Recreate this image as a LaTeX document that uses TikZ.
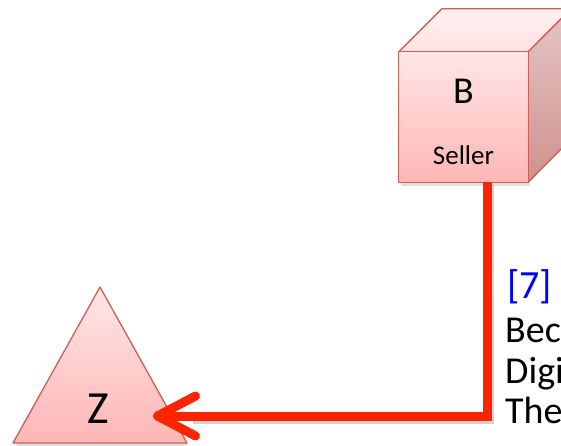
\documentclass[tikz,border=0pt]{standalone}
\usepackage{fontspec}
\setmainfont{Carlito}
\usetikzlibrary{arrows.meta,calc}
\definecolor{arrowred}{RGB}{255,36,0}
\definecolor{edgered}{RGB}{205,95,85}
\definecolor{facetop}{RGB}{255,230,230}
\definecolor{facebot}{RGB}{255,182,182}
\definecolor{sidetop}{RGB}{228,198,198}
\definecolor{sidebot}{RGB}{208,145,140}
\definecolor{lidtop}{RGB}{255,240,240}
\definecolor{lidbot}{RGB}{255,226,226}
\definecolor{labelblue}{RGB}{0,0,255}
\tikzset{
  edge/.style={draw=edgered, line width=1.3pt, line join=round},
  redline/.style={draw=arrowred, line width=9pt, line join=miter,
    -{Straight Barb[length=38pt,width=40pt,line cap=round,line join=round]}},
  shadowline/.style={draw=black, opacity=0.18, line width=9pt, line join=miter},
  txt/.style={inner sep=0pt, anchor=base west, font=\fontsize{38}{40}\selectfont},
}
\begin{document}
\begin{tikzpicture}[x=1pt,y=1pt]
\useasboundingbox (0,0) rectangle (561,445);
% cube B (front face as node)
\node[minimum width=129pt, minimum height=130pt, inner sep=0pt] (B) at (463.5,328) {};
\fill[black, opacity=0.12] ($(B.south west)+(2,-4)$) rectangle ($(B.north east)+(2,-4)$);
\shade[edge, top color=lidtop, bottom color=lidbot]
  (B.north west) -- ++(43,43) -- ++(129,0) -- (B.north east) -- cycle;
\shade[edge, top color=sidetop, bottom color=sidebot]
  (B.north east) -- ++(43,43) -- ++(0,-130) -- (B.south east) -- cycle;
\shade[edge, top color=facetop, bottom color=facebot]
  (B.south west) rectangle (B.north east);
\node[inner sep=0pt, anchor=base, font=\fontsize{38}{40}\selectfont] (Blabel) at (463.5,341) {B};
\node[inner sep=0pt, anchor=base, font=\fontsize{27}{30}\selectfont] (Bsub) at (463.5,280) {Seller};
% triangle Z
\coordinate (Ztop) at (100,158);
\coordinate (Zleft) at (13,2);
\coordinate (Zright) at (187,2);
\fill[black, opacity=0.12] ($(Ztop)+(2,-4)$) -- ($(Zright)+(2,-4)$) -- ($(Zleft)+(2,-4)$) -- cycle;
\shade[edge, top color=facetop, bottom color=facebot] (Ztop) -- (Zright) -- (Zleft) -- cycle;
\node[inner sep=0pt, anchor=base, font=\fontsize{46}{48}\selectfont] (Z) at (98,22) {Z};
% connector
\coordinate (zin) at (153,29);
\draw[shadowline] ($(B.south west)+(91,-3)$) |- ($(zin)+(40,-3)$);
\draw[redline] ($(B.south west)+(89,0)$) |- (zin);
% text
\node[txt, text=labelblue, font=\fontsize{40}{40}\selectfont] (t7) at (507,147) {[7]};
\node[txt] (t1) at (505,103) {Beca};
\node[txt] (t2) at (505,62) {Digi};
\node[txt] (t3) at (505,22) {The};
\end{tikzpicture}
\end{document}
